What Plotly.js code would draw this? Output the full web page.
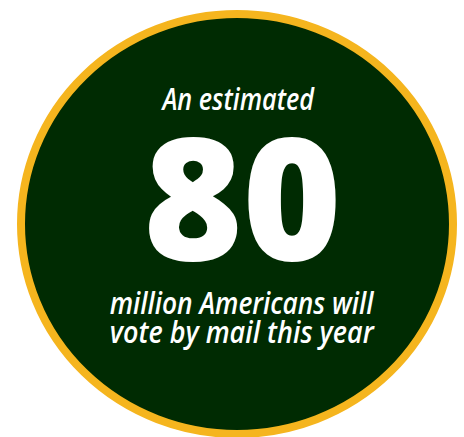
<!DOCTYPE html>
<html><head><meta charset="utf-8">
<script src="https://cdn.plot.ly/plotly-3.0.1.min.js"></script>
<style>html,body{margin:0;padding:0;background:#fff;}#chart{width:464px;height:437px;}</style>
</head><body><div id="chart"></div>
<script>
const introText = ["An estimated"];
const estimateValue = [80];
const captionLines = ["million Americans will", "vote by mail this year"];

const W = 464, H = 437;
const smallFont = {family:'Open Sans', size:31, color:'#ffffff', weight:600, style:'italic'};
const fitWidths = [154, 198, 265, 265];
const layout = {
  width: W, height: H,
  margin: {l:0, r:0, t:0, b:0},
  paper_bgcolor: '#ffffff', plot_bgcolor: '#ffffff',
  showlegend: false,
  xaxis: {range:[0,W], visible:false, fixedrange:true},
  yaxis: {range:[H,0], visible:false, fixedrange:true},
  shapes: [{
    type:'circle', xref:'x', yref:'y',
    x0:21, x1:453, y0:14, y1:434,
    fillcolor:'#002b02', line:{color:'#f5b51e', width:8}, layer:'below'
  }],
  annotations: [
    {x:238, y:98, yanchor:'middle', xanchor:'center', text:introText[0], showarrow:false, font:smallFont},
    {x:242, y:194, yanchor:'middle', xanchor:'center', text:String(estimateValue[0]), showarrow:false,
     font:{family:'Open Sans', size:170, color:'#ffffff', weight:800}},
    {x:242, y:302, yanchor:'middle', xanchor:'center', text:captionLines[0], showarrow:false, font:smallFont},
    {x:242, y:331, yanchor:'middle', xanchor:'center', text:captionLines[1], showarrow:false, font:smallFont}
  ]
};
Plotly.newPlot('chart', [], layout, {displayModeBar:false, staticPlot:true}).then(function(){
  document.querySelectorAll('.annotation-text').forEach(function(t, i){
    const bb = t.getBBox();
    const s = fitWidths[i] / bb.width;
    const cx = bb.x + bb.width/2;
    t.setAttribute('transform', 'translate(' + cx + ',0) scale(' + s + ',1) translate(' + (-cx) + ',0)');
  });
});
</script></body></html>
